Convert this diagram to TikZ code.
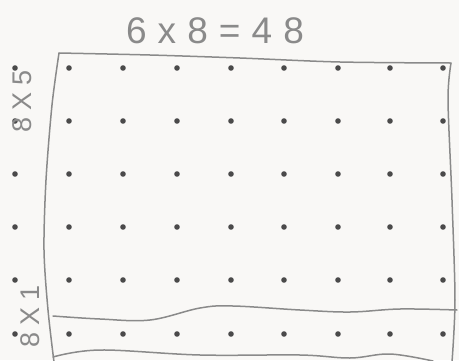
\documentclass[tikz,border=0pt]{standalone}
\usepackage{fontspec}
\setmainfont{Liberation Sans}
\definecolor{paper}{HTML}{F9F8F6}
\definecolor{pencil}{HTML}{8A8A8A}
\definecolor{dotgray}{HTML}{4A4A4A}
\begin{document}
\begin{tikzpicture}[x=1pt,y=-1pt,
  pen/.style={draw=pencil, line width=1.5pt, line cap=round, line join=round},
  dotmark/.style={fill=dotgray},
  hand/.style={text=pencil, inner sep=0pt},
  title/.style={hand, font=\fontsize{37}{37}\selectfont\addfontfeature{LetterSpace=30}},
  sidelabel/.style={hand, rotate=90, font=\fontsize{27}{27}\selectfont\addfontfeature{LetterSpace=26}}]
\fill[paper] (0,0) rectangle (459,360);
\useasboundingbox (0,0) rectangle (459,360);
% dots
\foreach \y in {68,121,174,227,280,334}{
  \foreach \x in {15,69,123,177,231,284,338,390,443}{
    \fill[dotmark] (\x,\y) circle (2.8);
  }
}
% outline of the array
\draw[pen] plot[smooth, tension=0.5] coordinates {(59,53) (52,105) (46,180) (44,250) (48,310) (54,362)};
\draw[pen] plot[smooth, tension=0.5] coordinates {(59,53) (150,55) (240,58) (340,62) (451,63)};
\draw[pen] plot[smooth, tension=0.5] coordinates {(451,63) (448,100) (452,200) (455,300) (452,362)};
% wavy separators
\draw[pen] plot[smooth, tension=0.6] coordinates {(53,316) (100,319) (150,320) (200,308) (233,306) (300,310) (350,312) (400,309) (457,310)};
\draw[pen] plot[smooth, tension=0.6] coordinates {(53,357) (100,350) (200,355) (300,355) (350,358) (390,354) (433,361)};
% texts
\node[title] (eq) at (215,31) {6x8=48};
\node[sidelabel] (top) at (22,101) {8X5};
\node[sidelabel] (bot) at (30,316) {8X1};
\end{tikzpicture}
\end{document}
